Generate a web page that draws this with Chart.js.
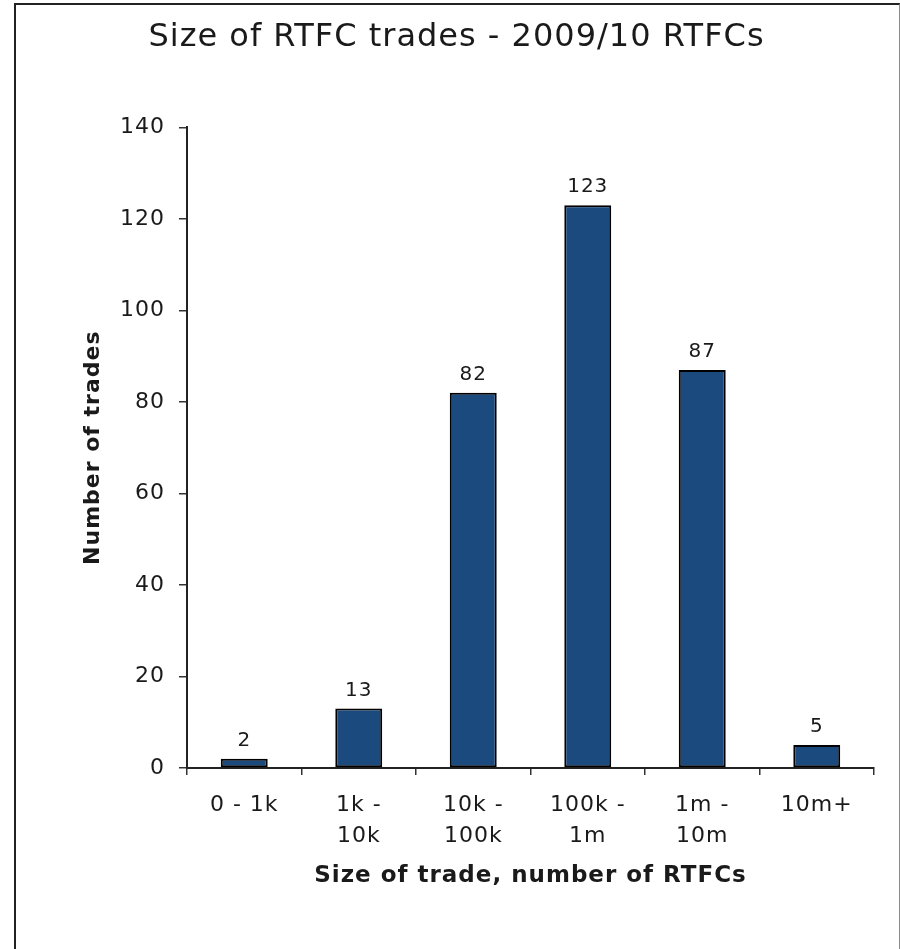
<!DOCTYPE html>
<html>
<head>
<meta charset="utf-8">
<title>Size of RTFC trades - 2009/10 RTFCs</title>
<script src="https://cdn.jsdelivr.net/npm/chart.js@4/dist/chart.umd.min.js"></script>
<style>
  html, body { margin: 0; padding: 0; background: #fff; overflow: hidden; }
  #wrap { position: relative; width: 900px; height: 949px; }
  #chart { position: absolute; left: 0; top: 0; }
  #frame {
    position: absolute; left: 14px; top: 3px; width: 883px; height: 960px;
    border-left: 2px solid #222; border-top: 2px solid #222; border-right: 1px solid #8a8a8a;
    pointer-events: none;
  }
</style>
</head>
<body>
<div id="wrap">
  <canvas id="chart" width="900" height="949" style="width:900px;height:949px"></canvas>
  <div id="frame"></div>
</div>
<script>
// Trade size bands (two-line labels where the band name wraps)
const categories = [
  ['0 - 1k'],
  ['1k -', '10k'],
  ['10k -', '100k'],
  ['100k -', '1m'],
  ['1m -', '10m'],
  ['10m+']
];
// Number of trades in each band
const tradeCounts = [2, 13, 82, 123, 87, 5];
// Y axis range
const yTicks = { min: 0, max: 140, step: 20 };

const TEXT = '#1a1a1a';
const FAMILY = '"DejaVu Sans", Verdana, sans-serif';
Chart.defaults.font.family = FAMILY;
Chart.defaults.color = TEXT;

// Slightly open letter spacing for all canvas text
const spacing = {
  id: 'spacing',
  beforeUpdate(chart) { chart.ctx.letterSpacing = '1px'; },
  beforeDraw(chart) { chart.ctx.letterSpacing = '1px'; }
};

// Value printed above each bar
const barValues = {
  id: 'barValues',
  afterDatasetsDraw(chart) {
    const ctx = chart.ctx;
    const meta = chart.getDatasetMeta(0);
    ctx.save();
    ctx.font = '20px ' + FAMILY;
    ctx.fillStyle = TEXT;
    ctx.textAlign = 'center';
    ctx.textBaseline = 'alphabetic';
    meta.data.forEach((bar, i) => {
      ctx.fillText(String(tradeCounts[i]), bar.x, bar.y - 13);
    });
    ctx.restore();
  }
};

new Chart(document.getElementById('chart'), {
  type: 'bar',
  data: {
    labels: categories,
    datasets: [{
      data: tradeCounts,
      backgroundColor: '#1b4a7e',
      borderColor: '#000',
      borderWidth: 2,
      borderSkipped: false,
      categoryPercentage: 1,
      barPercentage: 0.41
    }]
  },
  options: {
    responsive: false,
    animation: false,
    devicePixelRatio: 1,
    layout: { padding: { left: 39, right: 26, top: 0, bottom: 0 } },
    plugins: {
      legend: { display: false },
      tooltip: { enabled: false },
      title: {
        display: true,
        text: 'Size of RTFC trades - 2009/10 RTFCs',
        color: TEXT,
        font: { size: 32, weight: 'normal', lineHeight: 1.2 },
        padding: { top: 18, bottom: 71 }
      }
    },
    scales: {
      x: {
        grid: {
          display: true, drawOnChartArea: false, drawTicks: true,
          tickLength: 7, color: '#333', lineWidth: 1.5, offset: true
        },
        border: { display: true, color: '#222', width: 2 },
        ticks: {
          color: TEXT, padding: 15, maxRotation: 0, autoSkip: false,
          font: { size: 22, lineHeight: 1.4 }
        },
        title: {
          display: true,
          text: 'Size of trade, number of RTFCs',
          color: TEXT,
          font: { size: 23, weight: 'bold', lineHeight: 1.2 },
          padding: { top: 0, bottom: 59 }
        },
        afterFit(scale) { scale.height = 181; }
      },
      y: {
        min: yTicks.min,
        max: yTicks.max,
        grid: {
          display: true, drawOnChartArea: false, drawTicks: true,
          tickLength: 8, color: '#333', lineWidth: 1.5
        },
        border: { display: true, color: '#222', width: 2 },
        ticks: {
          stepSize: yTicks.step, color: TEXT, padding: 14,
          font: { size: 22 }
        },
        title: {
          display: true,
          text: 'Number of trades',
          color: TEXT,
          font: { size: 22, weight: 'bold', lineHeight: 1.2 },
          padding: { top: 41, bottom: 0 }
        },
        afterFit(scale) { scale.width = 148; }
      }
    }
  },
  plugins: [spacing, barValues]
});
</script>
</body>
</html>
